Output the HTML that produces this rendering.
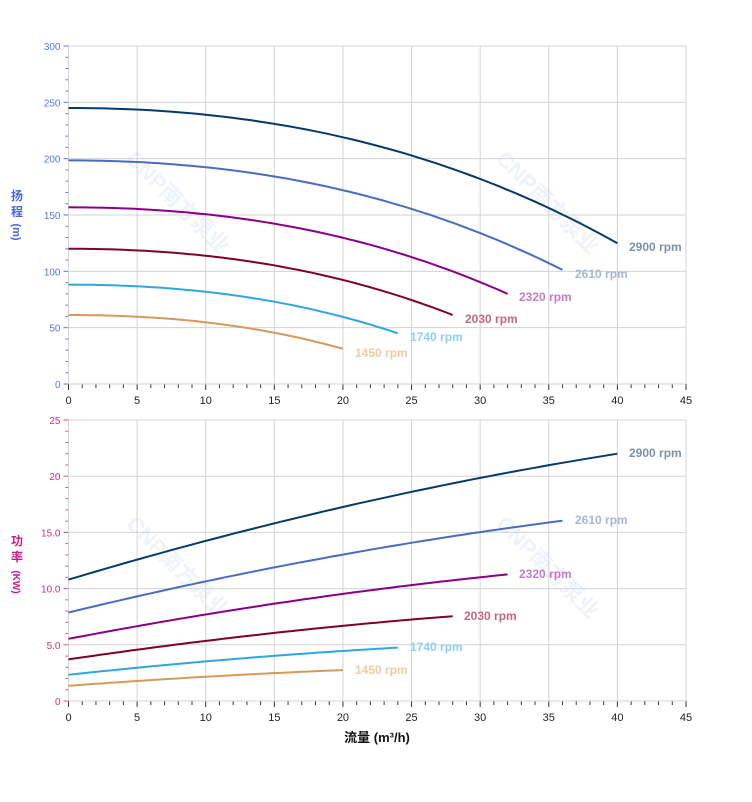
<!DOCTYPE html>
<html><head><meta charset="utf-8"><style>
body{margin:0;background:#fff;}
svg text{font-family:"Liberation Sans","Noto Sans CJK SC",sans-serif;}
</style></head><body>
<svg id="s" width="752" height="797" xmlns="http://www.w3.org/2000/svg"></svg>
<script>
const s=document.getElementById('s');let h='';
const X0=68.5,X1=686,xs=(X1-X0)/45;
const X=q=>X0+q*xs;
const T0=46,T1=384,ty=v=>T1-v*(T1-T0)/300;
const B0=420,B1=701,by=v=>B1-v*(B1-B0)/25;
function wm(x,y){h+=`<text x="${x}" y="${y}" transform="rotate(45 ${x} ${y})" font-size="22" font-weight="bold" fill="#edf3fa">CNP南方泵业</text>`;}
wm(125,160);wm(495,160);wm(125,525);wm(495,525);
function grid(top,bot,yfun,vals,minor,col,lab){
  for(let q=0;q<=45;q+=5){h+=`<line x1="${X(q)}" y1="${top}" x2="${X(q)}" y2="${bot}" stroke="#d3d3d3"/>`;
    h+=`<text x="${X(q)}" y="${bot+20}" font-size="11" text-anchor="middle" fill="#222">${q}</text>`;}
  for(let q=0;q<=45;q++){h+=`<line x1="${X(q)}" y1="${bot}" x2="${X(q)}" y2="${bot+(q%5?4:6)}" stroke="#333"/>`;}
  vals.forEach(v=>{const y=yfun(v[0]);h+=`<line x1="${X0}" y1="${y}" x2="${X1}" y2="${y}" stroke="#d3d3d3"/>`;
    h+=`<line x1="${X0-5}" y1="${y}" x2="${X0}" y2="${y}" stroke="${col}"/>`;
    h+=`<text x="${X0-8}" y="${y+4}" font-size="10" text-anchor="end" fill="${lab}">${v[1]}</text>`;});
  minor.forEach(v=>{const y=yfun(v);h+=`<line x1="${X0-3}" y1="${y}" x2="${X0}" y2="${y}" stroke="${col}"/>`;});
  h+=`<line x1="${X0}" y1="${top}" x2="${X0}" y2="${bot}" stroke="#d3d3d3"/>`;
}
let tv=[],tm=[];for(let v=0;v<=300;v+=50)tv.push([v,v]);for(let v=10;v<300;v+=10)if(v%50)tm.push(v);
grid(T0,T1,ty,tv,tm,"#5577ee","#5577ee");
let bv=[[0,'0'],[5,'5.0'],[10,'10.0'],[15,'15.0'],[20,'20'],[25,'25']],bm=[];for(let v=1;v<25;v++)if(v%5)bm.push(v);
grid(B0,B1,by,bv,bm,"#e0409a","#d0307f");
const cur=[[2900,"#053a6b","#7d92aa"],[2610,"#4a6cbf","#a3b6dc"],[2320,"#880088","#c57cc3"],[2030,"#7f0030","#c5677f"],[1740,"#2ea6df","#8ed0f2"],[1450,"#d49a5a","#efcba2"]];
const lp={2900:[[629,251],[629,457]],2610:[[575,278],[575,524]],2320:[[519,301],[519,578]],2030:[[465,323],[464,620]],1740:[[410,341],[410,651]],1450:[[355,357],[355,674]]};
cur.forEach(c=>{const r=c[0]/2900,qm=40*r;let p1='',p2='';
  for(let i=0;i<=60;i++){const q=qm*i/60;const u=q/r;const H=r*r*(245-0.055*u*u-0.0005*u*u*u);const P=r*r*r*(10.8+0.366*u-0.00215*u*u);
    p1+=(i?'L':'M')+X(q).toFixed(1)+' '+ty(H).toFixed(1);p2+=(i?'L':'M')+X(q).toFixed(1)+' '+by(P).toFixed(1);}
  h+=`<path d="${p1}" fill="none" stroke="${c[1]}" stroke-width="2"/><path d="${p2}" fill="none" stroke="${c[1]}" stroke-width="2"/>`;
  const L=lp[c[0]];L.forEach(a=>{h+=`<text x="${a[0]}" y="${a[1]}" font-size="12" font-weight="bold" fill="${c[2]}">${c[0]} rpm</text>`;});
});
h+=`<text x="17" y="200" font-size="12" font-weight="bold" fill="#4466dd" text-anchor="middle">扬</text><text x="17" y="216" font-size="12" font-weight="bold" fill="#4466dd" text-anchor="middle">程</text><text x="17" y="236" font-size="11" font-weight="bold" fill="#4466dd" text-anchor="middle" transform="rotate(90 17 232)">(m)</text>`;
h+=`<text x="17" y="545" font-size="12" font-weight="bold" fill="#cc1a88" text-anchor="middle">功</text><text x="17" y="561" font-size="12" font-weight="bold" fill="#cc1a88" text-anchor="middle">率</text><text x="17" y="586" font-size="10" font-weight="bold" fill="#cc1a88" text-anchor="middle" transform="rotate(90 17 582)">(KW)</text>`;
h+=`<text x="377" y="742" font-size="13" font-weight="bold" fill="#111" text-anchor="middle">流量 (m³/h)</text>`;
s.innerHTML=h;
</script>
</body></html>
